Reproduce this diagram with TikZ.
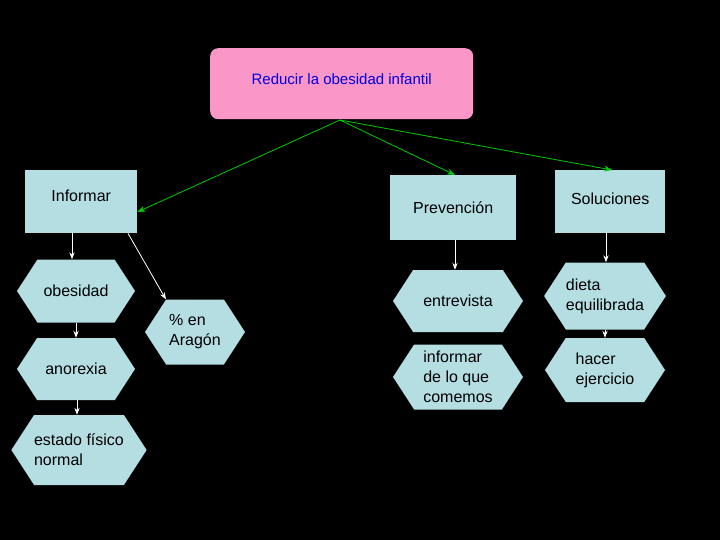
\documentclass[tikz,border=0pt]{standalone}
\usepackage{fontspec}
\setmainfont{Liberation Sans}
\usetikzlibrary{shapes.symbols,arrows.meta}
\begin{document}
\begin{tikzpicture}[x=1pt,y=-1pt,
 box/.style={draw=none,fill=cyan!10!gray!25!white,fill=boxc},
 hexa/.style={signal,signal to=west and east,signal pointer angle=114,fill=boxc,inner sep=0pt,align=left,font=\fontsize{16}{20}\selectfont},
 garr/.style={draw=green!80!black,thick,-{Stealth[length=8pt]}},
 warr/.style={draw=white,thick,-{Stealth[length=7pt]}}]
\definecolor{boxc}{RGB}{180,222,226}
\definecolor{pinkc}{RGB}{250,150,200}
\fill[black] (0,0) rectangle (720,540);
\useasboundingbox (0,0) rectangle (720,540);
\node[fill=pinkc,rounded corners=8pt,minimum width=263pt,minimum height=71pt,text=blue!85!black,font=\fontsize{15}{18}\selectfont,anchor=north west] (top) at (210,48) {\raisebox{10pt}{Reducir la obesidad infantil}};
\node[fill=boxc,minimum width=112pt,minimum height=63pt,anchor=north west,font=\fontsize{16}{20}\selectfont] (inf) at (25,170) {\raisebox{12pt}{Informar}};
\node[fill=boxc,minimum width=126pt,minimum height=65pt,anchor=north west,font=\fontsize{16}{20}\selectfont] (pre) at (390,175) {Prevención};
\node[fill=boxc,minimum width=110pt,minimum height=63pt,anchor=north west,font=\fontsize{16}{20}\selectfont] (sol) at (555,170) {\raisebox{6pt}{Soluciones}};
\node[hexa,minimum width=118pt,minimum height=63pt] (obe) at (76,291) {obesidad};
\node[hexa,minimum width=118pt,minimum height=62pt] (ano) at (76,369) {anorexia};
\node[hexa,minimum width=132pt,minimum height=70pt] (est) at (79,450) {estado físico\\normal};
\node[hexa,minimum width=100pt,minimum height=65pt] (ara) at (195,332) {\%~en\\Aragón};
\node[hexa,minimum width=130pt,minimum height=62pt] (ent) at (458,301) {entrevista};
\node[hexa,minimum width=130pt,minimum height=65pt] (com) at (458,377) {informar\\de lo que\\comemos};
\node[hexa,minimum width=120pt,minimum height=67pt] (die) at (605,296) {dieta\\equilibrada};
\node[hexa,minimum width=120pt,minimum height=64pt] (hac) at (605,370) {hacer\\ejercicio};
\coordinate (t0) at (340,120);
\draw[garr] (t0) -- (inf.east |- 0,212);
\draw[garr] (t0) -- (pre.north -| 455,0);
\draw[garr] (t0) -- (sol.north -| 612,0);
\draw[warr] (inf.south -| 72,0) -- (obe.north -| 72,0);
\draw[warr] (obe.south -| 76,0) -- (ano.north -| 76,0);
\draw[warr] (ano.south -| 77,0) -- (est.north -| 77,0);
\draw[warr] (inf.south -| 128,0) -- (ara.north west);
\draw[warr] (pre.south -| 455,0) -- (ent.north -| 455,0);
\draw[warr] (sol.south -| 606,0) -- (die.north -| 606,0);
\draw[warr] (die.south -| 605,0) -- (hac.north -| 605,0);
\end{tikzpicture}
\end{document}
